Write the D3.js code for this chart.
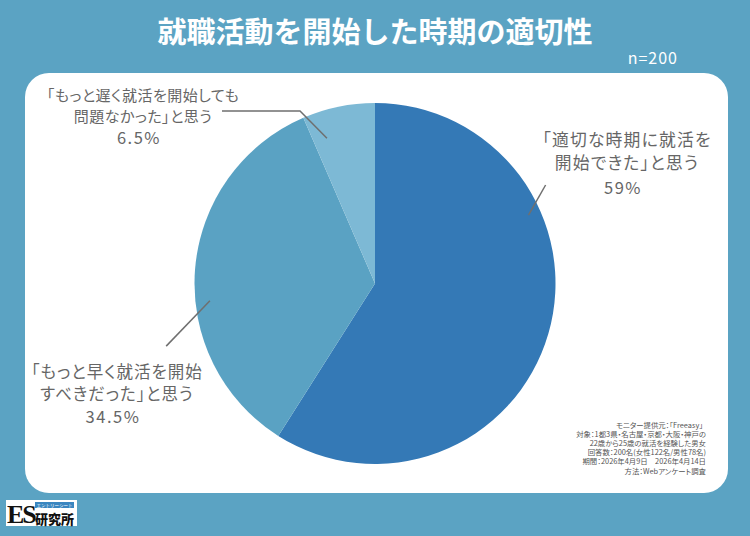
<!DOCTYPE html>
<html><head><meta charset="utf-8">
<script src="https://cdn.jsdelivr.net/npm/d3@7"></script>
<style>
html,body{margin:0;padding:0;background:#5BA3C3;}
svg{display:block;font-family:"Noto Sans CJK JP","Noto Sans",sans-serif;}
.p{font-feature-settings:"palt";}
</style></head>
<body>
<svg id="c" width="750" height="536"></svg>
<script>
const title = "就職活動を開始した時期の適切性";
const sampleNote = "n=200";
const categories = ["「適切な時期に就活を開始できた」と思う", "「もっと早く就活を開始すべきだった」と思う", "「もっと遅く就活を開始しても問題なかった」と思う"];
const labelLines = [
  ["「適切な時期に就活を", "開始できた」と思う"],
  ["「もっと早く就活を開始", "すべきだった」と思う"],
  ["「もっと遅く就活を開始しても", "問題なかった」と思う"]
];
const values = [59, 34.5, 6.5];
const valueLabels = ["59%", "34.5%", "6.5%"];
const colors = ["#3479B6", "#5AA2C3", "#7DB9D5"];
const footnotes = [
  "モニター提供元：「Freeasy」",
  "対象：1都3県・名古屋・京都・大阪・神戸の",
  "22歳から25歳の就活を経験した男女",
  "回答数：200名(女性122名/男性78名)",
  "期間：2026年4月9日　2026年4月14日",
  "方法：Webアンケート調査"
];

const svg = d3.select("#c");
svg.append("rect").attr("width",750).attr("height",536).attr("fill","#5BA3C3");
svg.append("rect").attr("x",25).attr("y",73).attr("width",703).attr("height",420).attr("rx",24).attr("fill","#fff");

svg.append("text").attr("x",375).attr("y",43).attr("text-anchor","middle")
  .attr("fill","#fff").attr("font-size",29).attr("font-weight",700).text(title);
svg.append("text").attr("x",678).attr("y",64).attr("text-anchor","end")
  .attr("fill","#fff").attr("font-size",16).attr("letter-spacing",1).text(sampleNote);

const cx = 375, cy = 283.5, R = 180.5;
const pie = d3.pie().sort(null).value(d=>d)(values);
const arc = d3.arc().innerRadius(0).outerRadius(R);
const g = svg.append("g").attr("transform",`translate(${cx},${cy})`);
g.selectAll("path").data(pie).join("path").attr("d",arc).attr("fill",(d,i)=>colors[i]);

const deg = Math.PI/180;
const lead = [
  {a0: 66*deg, r0:168, a1: 60*deg, r1:197, hx:null, tx:627, ty:[140,163,188], fs:16.8, ls:1.2},
  {a0: 264*deg, r0:166, a1: 253.3*deg, r1:218, hx:null, tx:117, ty:[372,394,417], fs:16.5, ls:1},
  {a0: -18.3*deg, r0:153, a1: -23.5*deg, r1:188, hx:222, tx:143, ty:[96,117,138], fs:15, ls:0.5}
];
lead.forEach((L,i)=>{
  const p0 = d3.pointRadial(L.a0, L.r0), p1 = d3.pointRadial(L.a1, L.r1);
  const pts = [[cx+p0[0],cy+p0[1]],[cx+p1[0],cy+p1[1]]];
  if (L.hx!==null) pts.push([L.hx, cy+p1[1]]);
  svg.append("path").attr("d",d3.line()(pts)).attr("fill","none").attr("stroke","#6f6f6f").attr("stroke-width",1.5);
  const t = svg.append("g").attr("class","p").attr("fill","#666").attr("font-size",L.fs).attr("letter-spacing",L.ls).attr("text-anchor","middle");
  labelLines[i].forEach((s,j)=>{
    t.append("text").attr("x",L.tx).attr("y",L.ty[j]).attr("dy","0.36em").text(s);
  });
  t.append("text").attr("x",L.tx-4).attr("y",L.ty[2]).attr("dy","0.36em").attr("font-size",16.5).attr("letter-spacing",1.5).text(valueLabels[i]);
});

const fn = svg.append("g").attr("class","p").attr("fill","#555").attr("font-size",7.4).attr("text-anchor","end");
footnotes.forEach((s,i)=>{
  fn.append("text").attr("x",i===0?703:706).attr("y",425+i*9.2).attr("dy","0.35em").text(s);
});

// logo
const lg = svg.append("g");
lg.append("rect").attr("x",6).attr("y",500).attr("width",71).attr("height",26).attr("fill","#fff");
lg.append("text").attr("x",7).attr("y",523).attr("font-size",26).attr("font-weight",700)
  .attr("font-family","Liberation Serif, serif").attr("fill","#111").attr("letter-spacing",-2).text("ES");
lg.append("rect").attr("x",35).attr("y",502).attr("width",39).attr("height",6).attr("fill","#3A86C0");
lg.append("text").attr("x",54.5).attr("y",506.8).attr("font-size",4.5).attr("text-anchor","middle").attr("fill","#fff").text("エントリーシート");
lg.append("text").attr("x",35).attr("y",523.5).attr("font-size",13).attr("font-weight",900).attr("fill","#111").text("研究所");
</script>
</body></html>
